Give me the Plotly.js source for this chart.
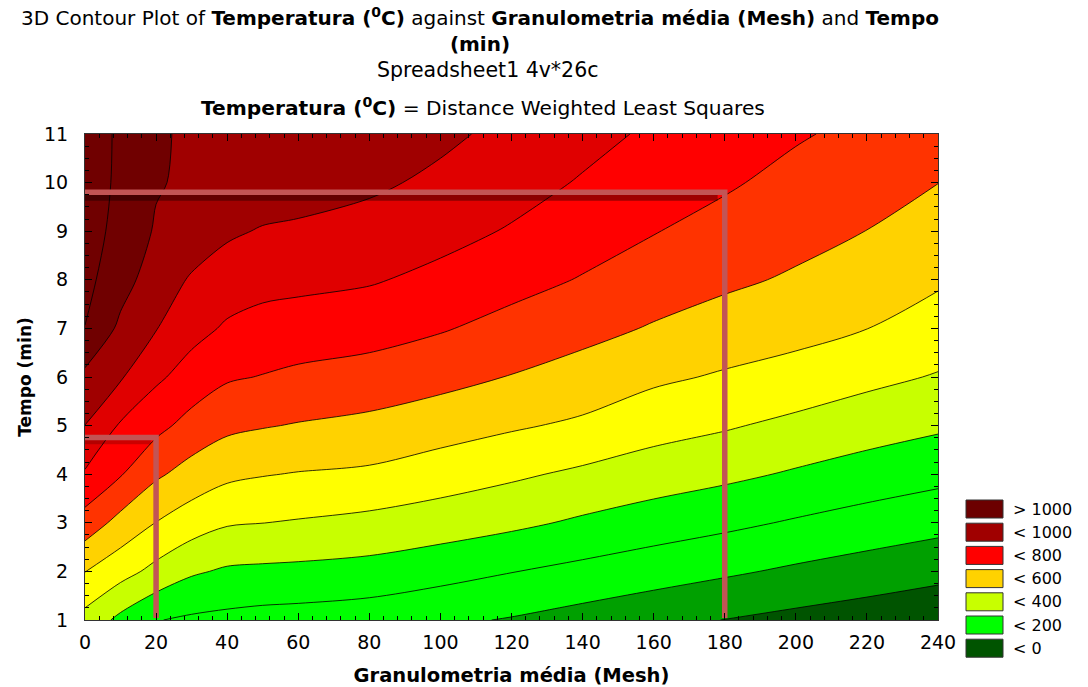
<!DOCTYPE html>
<html>
<head>
<meta charset="utf-8">
<script src="https://cdn.plot.ly/plotly-3.0.1.min.js"></script>
<style>html,body{margin:0;padding:0;background:#fff;}</style>
</head>
<body>
<div id="chart" style="width:1088px;height:687px;"></div>
<script>
// ---- data ----
const granulometria = [0, 10, 20, 30, 40, 50, 60, 80, 100, 120, 140, 160, 180, 200, 220, 240];
const tempo = [1, 2, 3, 4, 5, 6, 7, 8, 9, 10, 11];
// Temperatura (°C): one row per Tempo value, one column per Granulometria value
const temperatura = [
  [366, 275, 204, 185, 175, 165, 160, 145, 118,  93,  62,  32,  -2, -27, -50, -74],
  [502, 437, 372, 313, 287, 281, 277, 265, 236, 203, 173, 143, 115,  84,  56,  29],
  [658, 567, 498, 447, 409, 401, 392, 373, 350, 321, 285, 252, 222, 190, 160, 132],
  [789, 707, 616, 561, 521, 505, 495, 483, 448, 416, 382, 350, 322, 289, 257, 229],
  [899, 789, 729, 665, 622, 606, 594, 575, 545, 512, 483, 438, 410, 376, 344, 315],
  [977, 910, 817, 760, 711, 696, 680, 661, 631, 596, 561, 518, 489, 463, 425, 393],
  [1098, 979, 904, 831, 788, 766, 756, 739, 708, 668, 630, 592, 558, 532, 501, 457],
  [1128, 1039, 950, 890, 848, 831, 824, 809, 775, 733, 694, 650, 618, 588, 550, 513],
  [1145, 1068, 990, 955, 916, 892, 884, 867, 831, 792, 744, 704, 667, 631, 599, 557],
  [1148, 1082, 1008, 982, 974, 960, 945, 916, 882, 837, 792, 745, 712, 671, 637, 601],
  [1148, 1085, 1012, 985, 981, 970, 958, 935, 918, 877, 830, 785, 735, 710, 675, 644]
];
const contourStart = 0, contourEnd = 1100, contourStep = 100;
const xTickValues = [0, 20, 40, 60, 80, 100, 120, 140, 160, 180, 200, 220, 240];
const yTickValues = [1, 2, 3, 4, 5, 6, 7, 8, 9, 10, 11];
const legendLabels = ['> 1000', '< 1000', '< 800', '< 600', '< 400', '< 200', '< 0'];
// guide lines drawn over the chart (Tempo / Granulometria readings)
const guideHighX = [0, 180, 180];
const guideHighY = [9.8, 9.8, 1.04];
const guideHighShadowX = [0, 178];
const guideHighShadowY = [9.69, 9.69];
const guideLowX = [0, 20, 20];
const guideLowY = [4.755, 4.755, 1.04];
const guideLowShadowX = [0, 18.5];
const guideLowShadowY = [4.67, 4.67];

// ---- styles ----
const bandColors = ['#005400', '#00a000', '#00ff00', '#00ff00', '#c8ff00', '#ffff00',
                    '#ffd200', '#ff3300', '#ff0000', '#e00000', '#a00000', '#700000', '#700000'];
const legendColors = ['#6c0000', '#a00000', '#ff0000', '#ffd200', '#c8ff00', '#00ff00', '#005400'];
const FONT = 'DejaVu Sans, Arial, sans-serif';

const nb = bandColors.length - 1;
const colorscale = bandColors.map((c, i) => [i / nb, c]);

const traces = [
  {
    type: 'contour',
    x: granulometria,
    y: tempo,
    z: temperatura,
    autocontour: false,
    contours: {start: contourStart, end: contourEnd, size: contourStep, coloring: 'fill', showlines: true},
    colorscale: colorscale,
    showscale: false,
    line: {color: '#000', width: 0.8, smoothing: 0.9},
    hoverinfo: 'skip'
  },
  {type: 'scatter', mode: 'lines', x: guideHighShadowX, y: guideHighShadowY,
   line: {color: 'rgba(0,0,0,0.38)', width: 6}, hoverinfo: 'skip', showlegend: false},
  {type: 'scatter', mode: 'lines', x: guideLowShadowX, y: guideLowShadowY,
   line: {color: 'rgba(0,0,0,0.2)', width: 5}, hoverinfo: 'skip', showlegend: false},
  {type: 'scatter', mode: 'lines', x: guideHighX, y: guideHighY,
   line: {color: '#c25555', width: 5.5}, hoverinfo: 'skip', showlegend: false},
  {type: 'scatter', mode: 'lines', x: guideLowX, y: guideLowY,
   line: {color: '#c25555', width: 5.5}, hoverinfo: 'skip', showlegend: false}
];

// layout geometry (pixels -> paper)
const L = 85, R = 150, T = 134, B = 67, W = 1088, H = 687;
const pw = W - L - R, ph = H - T - B;
const px2x = p => (p - L) / pw;
const py2y = p => (H - B - p) / ph;

const shapes = [];
const annotations = [];
legendLabels.forEach((lab, i) => {
  const top = 500 + 23.2 * i;
  shapes.push({type: 'rect', xref: 'paper', yref: 'paper',
    x0: px2x(966), x1: px2x(1003), y0: py2y(top + 18), y1: py2y(top),
    fillcolor: legendColors[i], line: {color: '#333', width: 1}});
  annotations.push({xref: 'paper', yref: 'paper', x: px2x(1011), y: py2y(top + 9),
    xanchor: 'left', yanchor: 'middle', showarrow: false, text: lab,
    font: {family: FONT, size: 16, color: '#000'}});
});
annotations.push({xref: 'paper', yref: 'paper', x: px2x(487), y: py2y(70),
  xanchor: 'center', yanchor: 'middle', showarrow: false, text: 'Spreadsheet1 4v*26c',
  font: {family: FONT, size: 20.5, color: '#000'}});
annotations.push({xref: 'paper', yref: 'paper', x: px2x(483), y: py2y(107),
  xanchor: 'center', yanchor: 'middle', showarrow: false,
  text: '<b>Temperatura (<sup>0</sup>C)</b> = Distance Weighted Least Squares',
  font: {family: FONT, size: 20.2, color: '#000'}});

const layout = {
  width: W, height: H,
  margin: {l: L, r: R, t: T, b: B},
  paper_bgcolor: '#fff', plot_bgcolor: '#fff',
  showlegend: false,
  font: {family: FONT, size: 19, color: '#000'},
  title: {
    text: '3D Contour Plot of <b>Temperatura (<sup>0</sup>C)</b> against <b>Granulometria média (Mesh)</b> and <b>Tempo</b><br><b>(min)</b>',
    font: {family: FONT, size: 20, color: '#000'},
    x: 480 / W, xanchor: 'center', xref: 'container',
    y: 1 - 25 / H, yanchor: 'middle', yref: 'container'
  },
  xaxis: {
    range: [0, 240], tickvals: xTickValues, ticks: 'inside', ticklen: 7, tickwidth: 1, tickcolor: '#000',
    minor: {dtick: 4, ticks: 'inside', ticklen: 4, tickcolor: '#000', showgrid: false},
    showline: true, linecolor: '#333', linewidth: 1, mirror: 'allticks',
    showgrid: false, zeroline: false, ticklabelstandoff: 5,
    tickfont: {family: FONT, size: 19, color: '#000'},
    title: {text: '<b>Granulometria média (Mesh)</b>', font: {family: FONT, size: 19.5, color: '#000'}, standoff: 16}
  },
  yaxis: {
    range: [1, 11], tickvals: yTickValues, ticks: 'inside', ticklen: 7, tickwidth: 1, tickcolor: '#000',
    minor: {dtick: 0.25, ticks: 'inside', ticklen: 4, tickcolor: '#000', showgrid: false},
    showline: true, linecolor: '#333', linewidth: 1, mirror: 'allticks',
    showgrid: false, zeroline: false, ticklabelstandoff: 12,
    tickfont: {family: FONT, size: 19, color: '#000'},
    title: {text: '<b>Tempo (min)</b>', font: {family: FONT, size: 17, color: '#000'}, standoff: 8}
  },
  shapes: shapes,
  annotations: annotations
};

Plotly.newPlot('chart', traces, layout, {staticPlot: true, displayModeBar: false});
</script>
</body>
</html>
